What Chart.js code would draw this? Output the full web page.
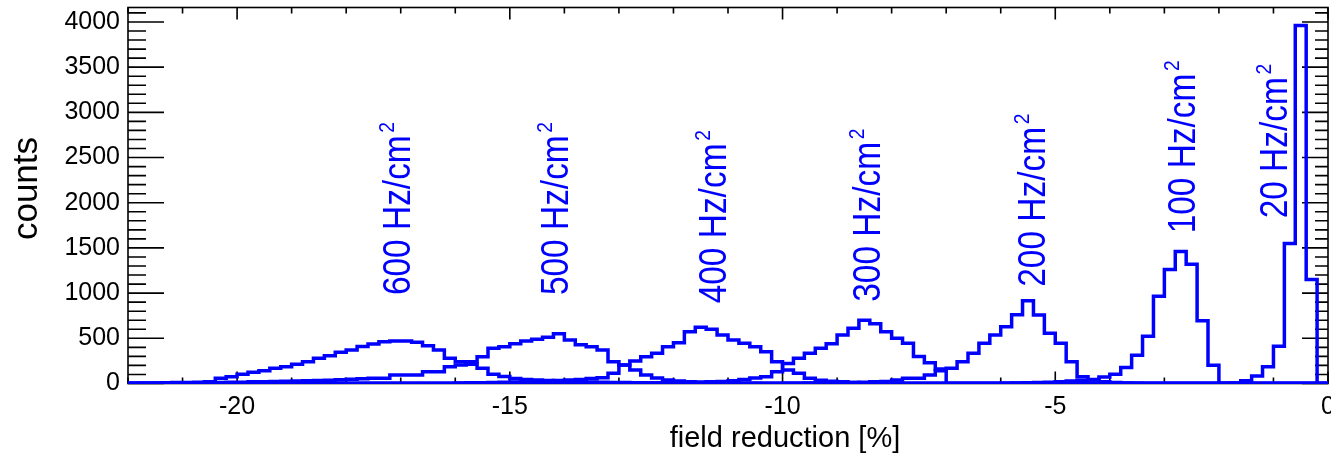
<!DOCTYPE html>
<html>
<head>
<meta charset="utf-8">
<script src="https://cdn.jsdelivr.net/npm/chart.js@4.4.1/dist/chart.umd.min.js"></script>
<style>
  html, body { margin: 0; padding: 0; background: #fff; }
  #wrap { width: 1331px; height: 459px; }
</style>
</head>
<body>
<div id="wrap"><canvas id="chart" width="1331" height="459"></canvas></div>
<script>
// histogram binning (field reduction in %)
const binWidth = 0.2;
const xMin = -22;
const xMax = 0;
const yMax = 4160;

// tick labels
const xTicks = [-20, -15, -10, -5, 0];
const yTicks = [0, 500, 1000, 1500, 2000, 2500, 3000, 3500, 4000];

// rates of each histogram, Hz/cm2
const rates = [600, 500, 400, 300, 200, 100, 20];

// left edge of the first listed bin for every histogram
const binStart = [-22.0, -21.0, -16.0, -13.0, -10.0, -6.0, -2.0];

// counts per bin
const counts600 = [3, 5, 6, 8, 10, 12, 15, 20,
  58, 75, 101, 124, 142, 168, 186, 212, 242, 279, 307, 345, 371, 408, 437, 463, 470, 470,
  456, 418, 371, 279, 242, 212, 168, 101, 77, 55, 45, 38, 32, 28, 24, 20, 17, 14, 12, 10,
  8, 6, 5, 4, 3, 2, 1];
const counts500 = [5, 7, 9, 11, 13, 15, 18, 20, 22, 25, 28, 30, 33, 37, 42,
  47, 52, 57, 57, 94, 94, 94, 131, 131, 186, 205, 240, 297, 389, 407, 440, 470, 490, 511, 550,
  481, 430, 407, 371, 241, 205, 150, 94, 61, 40, 28, 20, 14, 10, 7, 5, 3, 2, 1];
const counts400 = [5, 7, 9, 11, 14, 17, 20, 23, 27, 32,
  40, 45, 55, 65, 113, 205, 250, 297, 334, 407, 450, 573, 621, 600, 537, 481, 445, 407, 352,
  241, 150, 113, 57, 35, 25, 18, 12, 8, 5, 3, 2];
const counts300 = [3, 4, 5, 6, 8, 10, 12, 15, 18, 22,
  30, 45, 60, 75, 131, 220, 279, 334, 389, 440, 537, 610, 700, 660, 573, 500, 445, 300, 230, 160];
const counts200 = [3, 4, 5, 6, 8, 10, 12, 15, 18, 22,
  39, 57, 57, 94, 142, 168, 241, 334, 444, 536, 629, 760, 915, 758, 555, 444, 241, 75, 40, 20, 10, 5, 3];
const counts100 = [3, 5, 7, 10, 14, 20, 28, 36, 45, 73, 103, 177, 313, 523, 966, 1261, 1460, 1320, 693, 202];
const counts20 = [2, 5, 30, 84, 184, 413, 1549, 3960, 1150];

const allCounts = [counts600, counts500, counts400, counts300, counts200, counts100, counts20];

// where each rate label sits: x of the text baseline and y where the text starts (data units)
const labelX = [-16.83, -13.93, -11.03, -8.21, -5.19, -2.44, -0.76];
const labelY = [978, 978, 887, 904, 1070, 1661, 1827];

const blue = '#0000ff';
const fontFamily = '"Liberation Sans", Arial, Helvetica, sans-serif';

// turn bin counts into points for a stepped line covering the whole range
function toSteps(start, counts) {
  const pts = [];
  if (start > xMin) pts.push({ x: xMin, y: 0 });
  counts.forEach((c, i) => {
    pts.push({ x: Math.round((start + i * binWidth) * 100) / 100, y: c });
  });
  const end = Math.round((start + counts.length * binWidth) * 100) / 100;
  pts.push({ x: end, y: 0 });
  if (end < xMax) pts.push({ x: xMax, y: 0 });
  return pts;
}

// frame with inward ticks on all four sides (ROOT style)
const frameTicks = {
  id: 'frameTicks',
  beforeDatasetsDraw(chart) {
    const { ctx, chartArea: a, scales: { x, y } } = chart;
    ctx.save();
    ctx.strokeStyle = '#000';
    ctx.lineWidth = 1.6;
    ctx.strokeRect(a.left, a.top, a.right - a.left, a.bottom - a.top);
    ctx.beginPath();
    for (let v = xMin; v <= xMax; v += 1) {
      const px = x.getPixelForValue(v);
      const len = v % 5 === 0 ? 12 : 6;
      ctx.moveTo(px, a.bottom); ctx.lineTo(px, a.bottom - len);
      ctx.moveTo(px, a.top); ctx.lineTo(px, a.top + len);
    }
    for (let v = 0; v <= yMax; v += 100) {
      const py = y.getPixelForValue(v);
      const major = v % 500 === 0;
      ctx.moveTo(a.left, py); ctx.lineTo(a.left + (major ? 36 : 18), py);
      ctx.moveTo(a.right, py); ctx.lineTo(a.right - (major ? 26 : 13), py);
    }
    ctx.stroke();
    ctx.restore();
  }
};

// axis titles and the rotated rate labels
const textLayer = {
  id: 'textLayer',
  afterDatasetsDraw(chart) {
    const { ctx, chartArea: a, scales: { x, y } } = chart;
    ctx.save();

    ctx.fillStyle = '#000';
    ctx.font = '29px ' + fontFamily;
    ctx.textAlign = 'center';
    ctx.textBaseline = 'alphabetic';
    ctx.fillText('field reduction [%]', a.left + 0.5475 * (a.right - a.left), a.bottom + 63);

    ctx.save();
    ctx.translate(a.left - 91, (a.top + a.bottom) / 2 - 7);
    ctx.rotate(-Math.PI / 2);
    ctx.font = '35px ' + fontFamily;
    ctx.fillText('counts', 0, 0);
    ctx.restore();

    ctx.fillStyle = blue;
    ctx.textAlign = 'left';
    rates.forEach((r, i) => {
      ctx.save();
      ctx.translate(x.getPixelForValue(labelX[i]), y.getPixelForValue(labelY[i]));
      ctx.rotate(-Math.PI / 2);
      ctx.scale(0.88, 1);
      ctx.font = '38px ' + fontFamily;
      const txt = r + ' Hz/cm';
      ctx.fillText(txt, 0, 0);
      const w = ctx.measureText(txt).width;
      ctx.font = '22px ' + fontFamily;
      ctx.fillText('2', w + 3, -16);
      ctx.restore();
    });
    ctx.restore();
  }
};

Chart.defaults.font.family = fontFamily;
Chart.defaults.color = '#000';

new Chart(document.getElementById('chart').getContext('2d'), {
  type: 'line',
  data: {
    datasets: rates.map((r, i) => ({
      label: r + ' Hz/cm²',
      data: toSteps(binStart[i], allCounts[i]),
      borderColor: blue,
      borderWidth: 3.5,
      borderJoinStyle: 'miter',
      borderCapStyle: 'butt',
      stepped: true,
      pointRadius: 0,
      fill: false,
      tension: 0
    }))
  },
  options: {
    responsive: false,
    animation: false,
    layout: { padding: { top: 7.5, right: 3, left: 0, bottom: 0 } },
    plugins: { legend: { display: false }, tooltip: { enabled: false } },
    scales: {
      x: {
        type: 'linear',
        min: xMin,
        max: xMax,
        grid: { display: false, drawTicks: false },
        border: { display: false },
        ticks: { padding: 9, font: { size: 25 }, maxRotation: 0, autoSkip: false, callback: v => String(v) },
        afterBuildTicks(s) { s.ticks = xTicks.map(v => ({ value: v })); },
        afterFit(s) {
          s.height = 75.5;
          s.paddingLeft = 0;
          s.paddingRight = 0;
        }
      },
      y: {
        min: 0,
        max: yMax,
        grid: { display: false, drawTicks: false },
        border: { display: false },
        ticks: { padding: 8, font: { size: 25 }, autoSkip: false, callback: v => String(v) },
        afterBuildTicks(s) { s.ticks = yTicks.map(v => ({ value: v })); },
        afterFit(s) {
          s.width = 128;
          s.paddingTop = 0;
          s.paddingBottom = 0;
        }
      }
    }
  },
  plugins: [frameTicks, textLayer]
});
</script>
</body>
</html>
